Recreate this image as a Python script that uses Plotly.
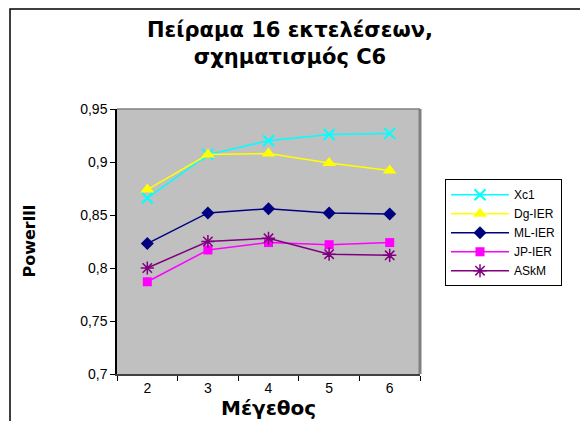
import plotly.graph_objects as go

# Category sizes and measured Power for each method
sizes = ["2", "3", "4", "5", "6"]
xc1 = [0.866, 0.907, 0.920, 0.926, 0.927]
dg_ier = [0.874, 0.907, 0.908, 0.899, 0.892]
ml_ier = [0.823, 0.852, 0.856, 0.852, 0.851]
jp_ier = [0.787, 0.817, 0.824, 0.822, 0.824]
askm = [0.800, 0.825, 0.828, 0.813, 0.812]

y_ticks = [0.7, 0.75, 0.8, 0.85, 0.9, 0.95]
y_ticktext = ["0,7", "0,75", "0,8", "0,85", "0,9", "0,95"]

FONT = "Liberation Sans, Arial, sans-serif"
WIDE = "DejaVu Sans, Verdana, sans-serif"

series = [
    ("Xc1", xc1, "#00FFFF", "x-thin", 11, dict(width=2, color="#00FFFF")),
    ("Dg-IER", dg_ier, "#FFFF00", "triangle-up", 12, None),
    ("ML-IER", ml_ier, "#000080", "diamond", 10, None),
    ("JP-IER", jp_ier, "#FF00FF", "square", 9, None),
    ("ASkM", askm, "#800080", "asterisk", 11, dict(width=1.5, color="#800080")),
]

fig = go.Figure()
for name, vals, color, symbol, size, mline in series:
    marker = dict(symbol=symbol, size=size, color=color)
    if mline:
        marker["line"] = mline
    fig.add_trace(go.Scatter(
        x=sizes, y=vals, name=name, mode="lines+markers",
        line=dict(color=color, width=1.5),
        marker=marker,
    ))

fig.update_layout(
    width=580, height=421,
    margin=dict(l=117, r=160, t=109, b=47),
    paper_bgcolor="white",
    plot_bgcolor="#C0C0C0",
    font=dict(family=FONT, size=13, color="black"),
    showlegend=True,
    legend=dict(
        x=1.0825, y=0.735, xanchor="left", yanchor="top",
        bordercolor="black", borderwidth=1, bgcolor="white",
        font=dict(family=FONT, size=12), itemwidth=58,
        tracegroupgap=0,
    ),
    title=dict(
        text="<b>Πείραμα 16 εκτελέσεων,<br>σχηματισμός C6</b>",
        x=0.5, xref="container", xanchor="center",
        y=1 - 37 / 421, yref="container", yanchor="middle",
        font=dict(family=WIDE, size=21, color="black"),
    ),
)

fig.update_xaxes(
    type="category", range=[-0.5, 4.5],
    tickson="boundaries", ticks="outside", ticklen=5, tickcolor="black",
    showline=True, linecolor="#404040", linewidth=2,
    showgrid=False, zeroline=False, mirror=False,
    tickfont=dict(family=FONT, size=14),
)
fig.update_yaxes(
    range=[0.7, 0.95], tickvals=y_ticks, ticktext=y_ticktext,
    ticks="outside", ticklen=5, tickcolor="black",
    showline=True, linecolor="black", linewidth=1.5,
    showgrid=False, zeroline=False,
    tickfont=dict(family=FONT, size=14),
)

# Gray frame on top and right of the plotting area
fig.add_shape(type="line", xref="paper", yref="paper", x0=0, x1=1, y0=1, y1=1,
              line=dict(color="#808080", width=1.5))
fig.add_shape(type="line", xref="paper", yref="paper", x0=1, x1=1, y0=0, y1=1,
              line=dict(color="#808080", width=3))

# Outer chart border
fig.add_shape(type="rect", xref="paper", yref="paper",
              x0=-107 / 303, x1=1.8, y0=-0.5, y1=365 / 265,
              line=dict(color="black", width=1.5), fillcolor="rgba(0,0,0,0)",
              layer="below")

# Axis titles
fig.add_annotation(text="<b>Powerlll</b>", textangle=-90,
                   xref="paper", yref="paper", x=-88 / 303, y=0.5,
                   xanchor="center", showarrow=False,
                   font=dict(family=WIDE, size=16))
fig.add_annotation(text="<b>Μέγεθος</b>",
                   xref="paper", yref="paper", x=0.5, y=-34 / 265,
                   yanchor="middle", showarrow=False,
                   font=dict(family=WIDE, size=20))

fig.write_html("out.html")
